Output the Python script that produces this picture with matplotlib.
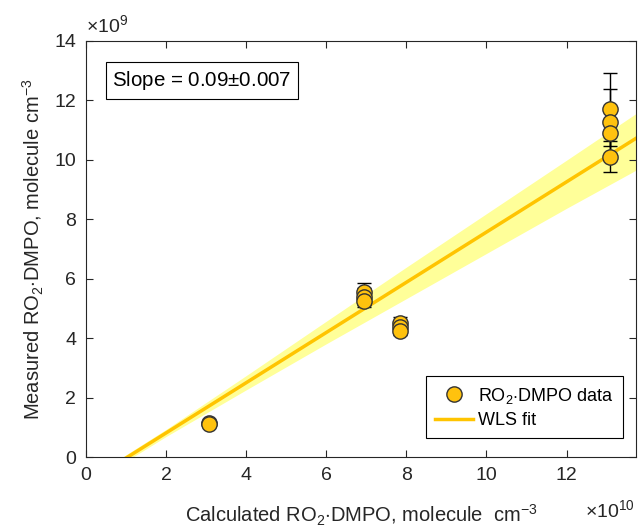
import numpy as np
import matplotlib
matplotlib.use("Agg")
import matplotlib.pyplot as plt
from matplotlib.lines import Line2D

plt.rcParams['font.family'] = ['Liberation Sans', 'DejaVu Sans']
plt.rcParams['mathtext.fontset'] = 'custom'
plt.rcParams['mathtext.rm'] = 'Liberation Sans'

# x in units of 1e10 molecule cm-3, y in units of 1e9 molecule cm-3
calc_x = [3.07, 3.07, 6.95, 6.95, 6.95, 7.84, 7.84, 7.84, 13.08, 13.08, 13.08, 13.08]
meas_y = [1.13, 1.10, 5.55, 5.40, 5.26, 4.52, 4.37, 4.25, 11.70, 11.28, 10.90, 10.11]
meas_err = [0.05, 0.05, 0.30, 0.28, 0.22, 0.20, 0.15, 0.15, 1.22, 1.10, 0.85, 0.52]

# WLS fit line and its confidence band
fit_x = [0.0, 14.0]
fit_y = [-0.88, 10.95]
band_x = [0, 2, 4, 6, 8, 10, 12, 14]
band_lo = [-0.98, 0.69, 2.26, 3.81, 5.33, 6.85, 8.37, 9.85]
band_hi = [-0.78, 0.93, 2.74, 4.57, 6.39, 8.19, 9.99, 11.80]

slope_txt = 'Slope = 0.09$\\pm$0.007'

gold = '#FFC20E'
fitc = '#FFC400'
axc = '#262626'

fig = plt.figure(figsize=(6.38, 5.29), dpi=100)
ax = fig.add_axes([0.1348, 0.1361, 0.8625, 0.7864])

ax.fill_between(band_x, band_lo, band_hi, color='#FFFF99', lw=0, zorder=1)
ax.plot(fit_x, fit_y, color=fitc, lw=2.5, zorder=2)
ax.errorbar(calc_x, meas_y, yerr=meas_err, fmt='none', ecolor='black',
            elinewidth=1.0, capsize=5, capthick=1.0, zorder=3)
ax.plot(calc_x, meas_y, 'o', ms=11, mfc=gold, mec='#333333', mew=1.0,
        ls='none', zorder=4)

ax.set_xlim(0, 13.74)
ax.set_ylim(0, 14)
ax.set_xticks(np.arange(0, 13, 2))
ax.set_yticks(np.arange(0, 15, 2))
ax.tick_params(direction='in', length=5, width=0.8, colors=axc,
               labelsize=14, top=True, right=True, pad=7)
for s in ax.spines.values():
    s.set_color(axc)
    s.set_linewidth(0.8)

ax.set_xlabel('Calculated RO$_2$$\\cdot$DMPO, molecule  cm$^{-3}$',
              fontsize=14.5, color=axc, labelpad=14)
ax.set_ylabel('Measured RO$_2$$\\cdot$DMPO, molecule cm$^{-3}$',
              fontsize=14.5, color=axc, labelpad=6)

ax.text(0.0, 1.01, '$\\times$10$^{9}$', transform=ax.transAxes,
        fontsize=14, color=axc, ha='left', va='bottom')
ax.text(0.998, -0.148, '$\\times$10$^{10}$', transform=ax.transAxes,
        fontsize=14, color=axc, ha='right', va='baseline')

ax.text(0.048, 0.905, slope_txt, transform=ax.transAxes, fontsize=14.8,
        color='black', ha='left', va='center',
        bbox=dict(boxstyle='square,pad=0.32', fc='white', ec='black', lw=0.8))

handles = [Line2D([], [], marker='o', ls='none', ms=11, mfc=gold,
                  mec='#333333', mew=1.0),
           Line2D([], [], color=fitc, lw=2.5)]
leg = ax.legend(handles, ['RO$_2$$\\cdot$DMPO data', 'WLS fit'],
                loc='lower right', bbox_to_anchor=(0.976, 0.046),
                borderaxespad=0, fontsize=13, frameon=True, fancybox=False,
                framealpha=1, edgecolor='black', handlelength=2.1,
                borderpad=0.5, labelspacing=0.35, handletextpad=0.3)
leg.get_frame().set_linewidth(0.8)

fig.savefig('out.png', dpi=100)
